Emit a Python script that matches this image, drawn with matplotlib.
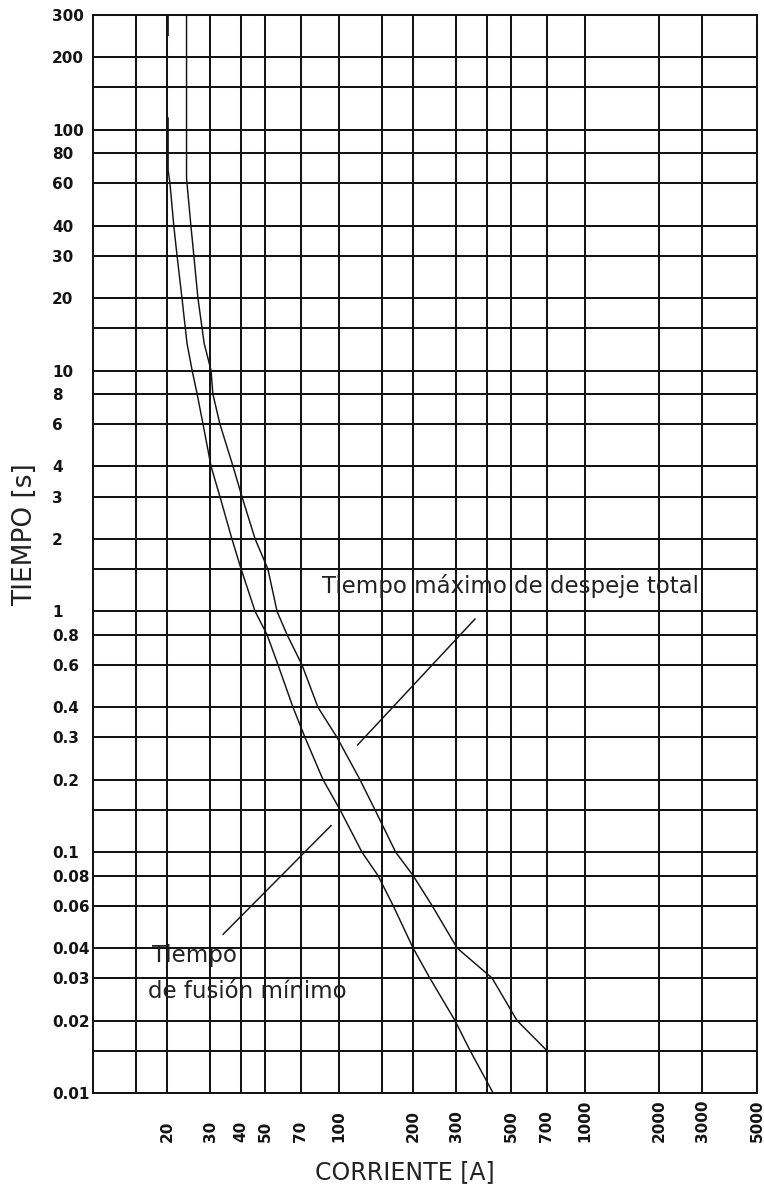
import numpy as np
import matplotlib
matplotlib.use("Agg")
import matplotlib.pyplot as plt
from matplotlib.ticker import FixedLocator, FixedFormatter, NullFormatter

# ---------------- data ----------------
x_major = [20, 30, 40, 50, 70, 100, 200, 300, 500, 700, 1000, 2000, 3000, 5000]
x_major_labels = ["20", "30", "40", "50", "70", "100", "200", "300", "500", "700",
                  "1000", "2000", "3000", "5000"]
x_minor = [15, 150, 400]

y_major = [300, 200, 100, 80, 60, 40, 30, 20, 10, 8, 6, 4, 3, 2, 1, 0.8, 0.6, 0.4,
           0.3, 0.2, 0.1, 0.08, 0.06, 0.04, 0.03, 0.02, 0.01]
y_major_labels = ["300", "200", "100", "80", "60", "40", "30", "20", "10", "8", "6",
                  "4", "3", "2", "1", "0.8", "0.6", "0.4", "0.3", "0.2", "0.1",
                  "0.08", "0.06", "0.04", "0.03", "0.02", "0.01"]
y_minor = [150, 15, 1.5, 0.15, 0.015]

nan = np.nan
min_melt_current = [20.2, 20.2, nan, 20.2, 20.2, 20.55, 21.3, 21.96, 23.0, 24.1, 25.3,
                    26.5, 28.0, 30.2, 32.8, 36.7, 40.0, 45.6, 51.0, 56.5, 65.0, 72.7,
                    86.1, 101, 124, 144, 166, 200, 234, 296, 341, 423]
min_melt_time = [300, 247, nan, 112, 68, 60, 40, 30, 20, 13, 10, 8, 6, 4, 3, 2, 1.5, 1,
                 0.8, 0.6, 0.4, 0.3, 0.2, 0.15, 0.1, 0.08, 0.06, 0.04, 0.03, 0.02,
                 0.015, 0.01]

max_clear_current = [24, 24, 24.1, 25.0, 25.7, 26.7, 28.3, 30.2, 30.7, 32.8, 37.1, 40.3,
                     45.6, 51.4, 56.0, 61.5, 70.7, 82.1, 98.1, 121.7, 140, 170, 200,
                     239, 302, 419, 529, 700]
max_clear_time = [300, 63, 60, 40, 30, 20, 13, 10, 8, 6, 4, 3, 2, 1.5, 1, 0.8, 0.6, 0.4,
                  0.3, 0.2, 0.15, 0.1, 0.08, 0.06, 0.04, 0.03, 0.02, 0.015]

leader_max_current = [119, 357]
leader_max_time = [0.279, 0.93]
leader_min_current = [33.8, 92.8]
leader_min_time = [0.0456, 0.129]

label_max_text = "Tiempo máximo de despeje total"
label_min_text_1 = "Tiempo"
label_min_text_2 = "de fusión mínimo"

# ---------------- figure ----------------
W, H = 764, 1188
fig = plt.figure(figsize=(W / 100, H / 100), dpi=100)
L, R, T, B = 93, 757, 15, 1093
ax = fig.add_axes([L / W, 1 - B / H, (R - L) / W, (B - T) / H])

ax.set_xscale("log")
ax.set_yscale("log")
ax.set_xlim(10, 5000)
ax.set_ylim(0.01, 300)

ink = "#141414"
grid_lw = 1.45

ax.xaxis.set_major_locator(FixedLocator(x_major))
ax.xaxis.set_major_formatter(FixedFormatter(x_major_labels))
ax.xaxis.set_minor_locator(FixedLocator(x_minor))
ax.xaxis.set_minor_formatter(NullFormatter())
ax.yaxis.set_major_locator(FixedLocator(y_major))
ax.yaxis.set_major_formatter(FixedFormatter(y_major_labels))
ax.yaxis.set_minor_locator(FixedLocator(y_minor))
ax.yaxis.set_minor_formatter(NullFormatter())

ax.grid(True, which="both", color=ink, lw=grid_lw)
ax.set_axisbelow(True)
for s in ax.spines.values():
    s.set_color(ink)
    s.set_linewidth(grid_lw)

ax.tick_params(which="both", length=0)
ax.tick_params(axis="x", which="major", pad=35.3, labelsize=11, labelcolor=ink)
ax.tick_params(axis="y", which="major", pad=29.5, labelsize=11, labelcolor=ink)
for lab in ax.get_xticklabels():
    lab.set_rotation(90)
    lab.set_verticalalignment("bottom")
    lab.set_horizontalalignment("center")
    lab.set_fontweight("bold")
for lab in ax.get_yticklabels():
    lab.set_horizontalalignment("left")
    lab.set_fontweight("bold")

# curves
curve_lw = 1.05
ax.plot(min_melt_current, min_melt_time, color=ink, lw=curve_lw)
ax.plot(max_clear_current, max_clear_time, color=ink, lw=curve_lw)
ax.plot(leader_max_current, leader_max_time, color=ink, lw=curve_lw)
ax.plot(leader_min_current, leader_min_time, color=ink, lw=curve_lw)

# annotation texts
txt_color = "#222222"
ax.text(85.3, 1.19, label_max_text, fontsize=16.5, color=txt_color,
        ha="left", va="baseline")
ax.text(17.4, 0.035, label_min_text_1, fontsize=16.5, color=txt_color,
        ha="left", va="baseline")
ax.text(16.7, 0.0247, label_min_text_2, fontsize=16.5, color=txt_color,
        ha="left", va="baseline")

# axis labels
ax.set_xlabel("CORRIENTE [A]", fontsize=17, color=txt_color, va="center", ha="center")
ax.xaxis.set_label_coords((405 - L) / (R - L), -(1172 - B) / (B - T))
ax.set_ylabel("TIEMPO [s]", fontsize=19, color=txt_color, va="center", ha="center")
ax.yaxis.set_label_coords((25 - L) / (R - L), (B - 535) / (B - T))

fig.savefig("out.png", dpi=100)
